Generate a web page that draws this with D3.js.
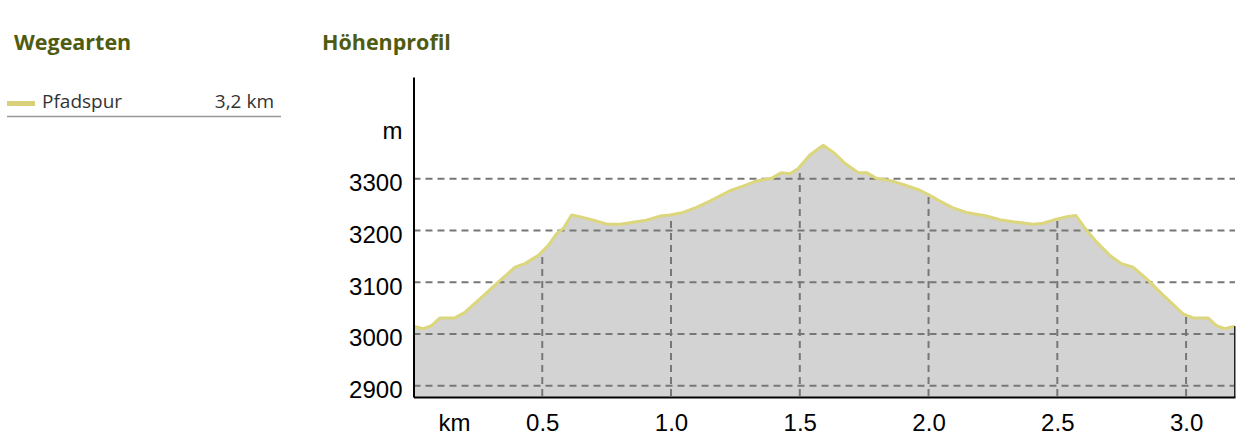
<!DOCTYPE html>
<html>
<head>
<meta charset="utf-8">
<script src="https://cdn.jsdelivr.net/npm/d3@7"></script>
<style>
  body { margin: 0; background: #fff; }
  svg { display: block; }
  .title { font-family: "Open Sans", sans-serif; font-weight: bold; font-size: 21.5px; fill: #4f5b10; }
  .legend { font-family: "Open Sans", sans-serif; font-size: 19px; fill: #333; }
  .axis text { font-family: "Liberation Sans", Arial, sans-serif; font-size: 24px; fill: #000; }
</style>
</head>
<body>
<script>
'use strict';
// profile: distance in km, elevation in m
const distKm = [0, 0.038, 0.07, 0.103, 0.161, 0.2, 0.258, 0.329, 0.394, 0.433, 0.485, 0.523, 0.556, 0.582,
  0.614, 0.653, 0.698, 0.756, 0.802, 0.853, 0.905, 0.957, 0.996, 1.047, 1.099, 1.151, 1.229, 1.28,
  1.332, 1.39, 1.429, 1.462, 1.494, 1.539, 1.591, 1.636, 1.675, 1.727, 1.759, 1.798, 1.85, 1.901,
  1.966, 2.005, 2.044, 2.095, 2.147, 2.225, 2.277, 2.328, 2.406, 2.445, 2.497, 2.542, 2.572, 2.613,
  2.652, 2.704, 2.749, 2.794, 2.846, 2.911, 2.988, 3.027, 3.085, 3.118, 3.15, 3.189];
const elevM = [3015, 3010, 3016, 3031, 3031, 3042, 3068, 3100, 3129, 3136, 3152, 3171, 3194, 3204,
  3230, 3226, 3220, 3212, 3212, 3216, 3220, 3228, 3230, 3235, 3245, 3257, 3277, 3286,
  3296, 3301, 3312, 3310, 3320, 3346, 3365, 3349, 3330, 3312, 3312, 3301, 3297, 3289,
  3278, 3268, 3257, 3244, 3235, 3228, 3221, 3217, 3212, 3214, 3222, 3227, 3229, 3201,
  3178, 3152, 3136, 3129, 3107, 3075, 3039, 3031, 3031, 3016, 3010, 3015];
const yTicks = [2900, 3000, 3100, 3200, 3300];
const xTicks = [0.5, 1.0, 1.5, 2.0, 2.5, 3.0];
const legendItems = [{ name: 'Pfadspur', length: '3,2 km' }];

const W = 1257, H = 432;
const svg = d3.select('body').append('svg').attr('width', W).attr('height', H);

// left panel
svg.append('text').attr('class', 'title').attr('x', 14).attr('y', 50).text('Wegearten');
svg.append('text').attr('class', 'title').attr('x', 322).attr('y', 50).text('Höhenprofil');

const leg = svg.selectAll('g.leg').data(legendItems).join('g').attr('class', 'leg')
  .attr('transform', (d, i) => `translate(0,${i * 30})`);
leg.append('rect').attr('x', 7).attr('y', 101).attr('width', 28).attr('height', 5).attr('fill', '#d8d17a');
leg.append('text').attr('class', 'legend').attr('x', 42).attr('y', 108).text(d => d.name);
leg.append('text').attr('class', 'legend').attr('x', 274).attr('y', 108).attr('text-anchor', 'end').text(d => d.length);
leg.append('line').attr('x1', 7).attr('x2', 281).attr('y1', 116.5).attr('y2', 116.5)
  .attr('stroke', '#999').attr('stroke-width', 1.3);

// chart
const x = d3.scaleLinear().domain([0, 3.19]).range([413.5, 1235]);
const y = d3.scaleLinear().domain([2878, 3497]).range([397, 77]);
const pts = distKm.map((d, i) => [d, elevM[i]]);

const area = d3.area().x(d => x(d[0])).y0(y.range()[0]).y1(d => y(d[1]));
const line = d3.line().x(d => x(d[0])).y(d => y(d[1]));

svg.append('clipPath').attr('id', 'clip').append('path').attr('d', area(pts));

svg.append('path').attr('d', area(pts)).attr('fill', '#d3d3d3');

const dash = { stroke: '#777', 'stroke-width': 2, 'stroke-dasharray': '7,5' };
const hg = svg.append('g').selectAll('line').data(yTicks).join('line')
  .attr('x1', x.range()[0]).attr('x2', x.range()[1])
  .attr('y1', d => y(d)).attr('y2', d => y(d));
const vg = svg.append('g').attr('clip-path', 'url(#clip)').selectAll('line').data(xTicks).join('line')
  .attr('x1', d => x(d)).attr('x2', d => x(d))
  .attr('y1', y.range()[1]).attr('y2', y.range()[0]);
for (const k in dash) { hg.attr(k, dash[k]); vg.attr(k, dash[k]); }

svg.append('path').attr('d', line(pts)).attr('fill', 'none')
  .attr('stroke', '#dcd67c').attr('stroke-width', 3).attr('stroke-linejoin', 'round');

// right edge of profile
const last = pts[pts.length - 1];
svg.append('line').attr('x1', x(last[0])).attr('x2', x(last[0]))
  .attr('y1', y(last[1])).attr('y2', y.range()[0]).attr('stroke', '#222').attr('stroke-width', 1.5);

// axes
const yAxis = svg.append('g').attr('class', 'axis').attr('transform', `translate(${x.range()[0]},0)`)
  .call(d3.axisLeft(y).tickValues(yTicks).tickSize(0).tickPadding(11).tickFormat(d3.format('d')));
yAxis.select('.domain').attr('stroke', '#000').attr('stroke-width', 2);
yAxis.selectAll('text').attr('dy', '0.5em');
yAxis.append('text').attr('x', -11).attr('y', 139).attr('text-anchor', 'end').text('m');

const xAxis = svg.append('g').attr('class', 'axis').attr('transform', `translate(0,${y.range()[0]})`)
  .call(d3.axisBottom(x).tickValues(xTicks).tickSize(0).tickPadding(0).tickFormat(d3.format('.1f')));
xAxis.select('.domain').attr('stroke', '#000').attr('stroke-width', 2);
xAxis.selectAll('.tick text').attr('dy', 0).attr('y', 34);
xAxis.append('text').attr('x', 454.5).attr('y', 34).attr('text-anchor', 'middle').text('km');
</script>
</body>
</html>
